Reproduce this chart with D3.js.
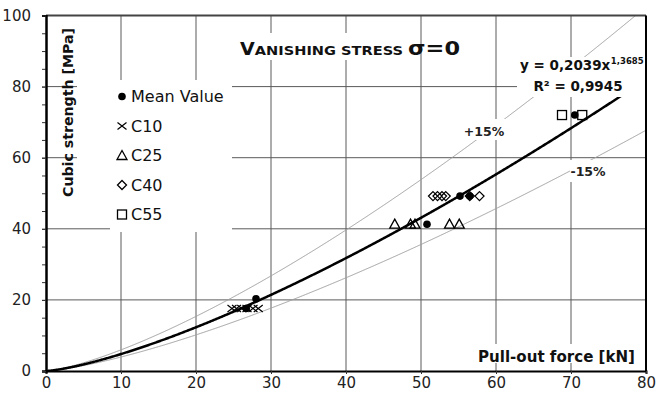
<!DOCTYPE html>
<html>
<head>
<meta charset="utf-8">
<script src="https://cdn.jsdelivr.net/npm/d3@7"></script>
<style>
  body { margin: 0; background: #fff; }
  svg text { font-family: "DejaVu Sans", sans-serif; }
</style>
</head>
<body>
<script>
// DATA
var meanX = [28.0, 26.7, 50.8, 55.2, 56.5, 70.5];
var meanY = [20.3, 17.6, 41.3, 49.2, 49.2, 72.0];
var c10X = [24.8, 25.4, 26.1, 26.8, 27.6, 28.3];
var c10Y = [17.6, 17.6, 17.6, 17.6, 17.6, 17.6];
var c25X = [46.5, 48.6, 49.2, 53.8, 55.1];
var c25Y = [41.3, 41.3, 41.3, 41.3, 41.3];
var c40X = [51.6, 52.2, 52.8, 53.3, 56.5, 57.8];
var c40Y = [49.2, 49.2, 49.2, 49.2, 49.2, 49.2];
var c55X = [68.8, 71.5];
var c55Y = [72.0, 72.0];
var xTicks = [0, 10, 20, 30, 40, 50, 60, 70, 80];
var yTicks = [0, 20, 40, 60, 80, 100];
var legendNames = ['Mean Value', 'C10', 'C25', 'C40', 'C55'];
var fitA = 0.2039, fitB = 1.3685, band = 0.15;

// SETTINGS
var W = 657, H = 401;
var x = d3.scaleLinear().domain([0, 80]).range([46, 646]);
var y = d3.scaleLinear().domain([0, 100]).range([371, 15.5]);

var svg = d3.select('body').append('svg').attr('width', W).attr('height', H);

// GRID
svg.append('g').selectAll('line').data(xTicks.slice(1, -1)).join('line')
   .attr('x1', d => x(d)).attr('x2', d => x(d))
   .attr('y1', y(100)).attr('y2', y(0))
   .attr('stroke', '#5a5a5a').attr('stroke-width', 1);
svg.append('g').selectAll('line').data(yTicks.slice(1, -1)).join('line')
   .attr('x1', x(0)).attr('x2', x(80))
   .attr('y1', d => y(d)).attr('y2', d => y(d))
   .attr('stroke', '#5a5a5a').attr('stroke-width', 1);

// CURVES
var fit = v => fitA * Math.pow(v, fitB);
var steps = d3.range(0, 801).map(i => i / 10);
var line = d3.line().x(d => x(d[0])).y(d => y(d[1]));
svg.append('clipPath').attr('id', 'plot').append('rect')
   .attr('x', x(0)).attr('y', y(100)).attr('width', x(80) - x(0)).attr('height', y(0) - y(100));

svg.append('path').attr('clip-path', 'url(#plot)')
   .attr('d', line(steps.map(v => [v, fit(v / (1 - band))])))
   .attr('fill', 'none').attr('stroke', '#a0a0a0').attr('stroke-width', 1);
svg.append('path').attr('clip-path', 'url(#plot)')
   .attr('d', line(steps.map(v => [v, fit(v / (1 + band))])))
   .attr('fill', 'none').attr('stroke', '#a0a0a0').attr('stroke-width', 1);
svg.append('path')
   .attr('d', line(steps.filter(v => v <= 77).map(v => [v, fit(v)])))
   .attr('fill', 'none').attr('stroke', '#000').attr('stroke-width', 2.5);

// WHITE BOXES BEHIND TEXT
var boxes = [[77, 80, 33, 120], [110, 80, 122, 152], [232, 33, 185, 27], [517, 57, 128, 40],
             [464, 119, 41, 21], [570, 160, 37, 22], [476, 344, 162, 19]];
svg.append('g').selectAll('rect').data(boxes).join('rect')
   .attr('x', d => d[0]).attr('y', d => d[1]).attr('width', d => d[2]).attr('height', d => d[3])
   .attr('fill', '#fff');

// MARKERS
function drawMarkers(g, xs, ys, kind) {
   xs.forEach((v, i) => marker(g, x(v), y(ys[i]), kind));
}
function marker(g, cx, cy, kind) {
   if (kind === 'mean') {
      g.append('circle').attr('cx', cx).attr('cy', cy).attr('r', 3.8).attr('fill', '#000');
   } else if (kind === 'cross') {
      g.append('path').attr('d', `M${cx-4.5},${cy-3.5}L${cx+4.5},${cy+3.5}M${cx-4.5},${cy+3.5}L${cx+4.5},${cy-3.5}`)
         .attr('stroke', '#000').attr('stroke-width', 1.2).attr('fill', 'none');
   } else if (kind === 'tri') {
      g.append('path').attr('d', `M${cx},${cy-5}L${cx+5},${cy+4}L${cx-5},${cy+4}Z`)
         .attr('stroke', '#000').attr('stroke-width', 1.3).attr('fill', 'none');
   } else if (kind === 'diam') {
      g.append('path').attr('d', `M${cx},${cy-4.5}L${cx+4.5},${cy}L${cx},${cy+4.5}L${cx-4.5},${cy}Z`)
         .attr('stroke', '#000').attr('stroke-width', 1.3).attr('fill', 'none');
   } else {
      g.append('rect').attr('x', cx - 4.5).attr('y', cy - 4.5).attr('width', 9).attr('height', 9)
         .attr('stroke', '#000').attr('stroke-width', 1.3).attr('fill', 'none');
   }
}
var gm = svg.append('g');
drawMarkers(gm, c10X, c10Y, 'cross');
drawMarkers(gm, c25X, c25Y, 'tri');
drawMarkers(gm, c40X, c40Y, 'diam');
drawMarkers(gm, c55X, c55Y, 'square');
drawMarkers(gm, meanX, meanY, 'mean');

// LEGEND
var kinds = ['mean', 'cross', 'tri', 'diam', 'square'];
var lg = svg.append('g');
legendNames.forEach((name, i) => {
   var ly = 96.5 + i * 29.5;
   marker(lg, 122, ly, kinds[i]);
   lg.append('text').attr('x', 131).attr('y', ly).attr('dy', '0.36em')
      .attr('font-size', 16).attr('fill', '#111').text(name);
});

// FRAME
svg.append('line').attr('x1', x(0)).attr('x2', x(80)).attr('y1', y(100)).attr('y2', y(100))
   .attr('stroke', '#444').attr('stroke-width', 2);
svg.append('line').attr('x1', x(80)).attr('x2', x(80)).attr('y1', y(100)).attr('y2', y(0))
   .attr('stroke', '#000').attr('stroke-width', 2);

// AXES
var xAxis = svg.append('g').attr('transform', `translate(0,${y(0)})`)
   .call(d3.axisBottom(x).tickValues(xTicks).tickSize(3).tickPadding(3).tickFormat(d3.format('d')));
var yMinor = svg.append('g').attr('transform', `translate(${x(0)},0)`)
   .call(d3.axisLeft(y).tickValues(d3.range(0, 101, 5)).tickSize(4).tickFormat(''));
var yAxis = svg.append('g').attr('transform', `translate(${x(0)},0)`)
   .call(d3.axisLeft(y).tickValues(yTicks).tickSize(4).tickPadding(11).tickFormat(d3.format('d')));
[xAxis, yAxis, yMinor].forEach(a => {
   a.select('.domain').attr('stroke', '#000').attr('stroke-width', 2);
   a.selectAll('.tick line').attr('stroke', '#333');
   a.selectAll('text').attr('font-family', 'DejaVu Sans').attr('font-size', 15).attr('fill', '#222');
});

// AXIS TITLES
svg.append('text').attr('transform', 'translate(73,112.5) rotate(-90)')
   .attr('text-anchor', 'middle').attr('font-weight', 'bold').attr('font-size', 14.5)
   .attr('textLength', 169).attr('lengthAdjust', 'spacingAndGlyphs').attr('fill', '#111')
   .text('Cubic strength [MPa]');
svg.append('text').attr('x', 478).attr('y', 362)
   .attr('font-weight', 'bold').attr('font-size', 15)
   .attr('textLength', 157).attr('lengthAdjust', 'spacingAndGlyphs').attr('fill', '#111')
   .text('Pull-out force [kN]');

// TITLE
var title = svg.append('text').attr('x', 240).attr('y', 55).attr('font-weight', 'bold').attr('fill', '#111')
   .attr('textLength', 220).attr('lengthAdjust', 'spacingAndGlyphs');
title.append('tspan').attr('font-size', 17).text('V');
title.append('tspan').attr('font-size', 13).text('ANISHING STRESS ');
title.append('tspan').attr('font-size', 20).text('σ=0');

// EQUATION AND BAND LABELS
var eq = svg.append('text').attr('x', 520).attr('y', 70).attr('font-weight', 'bold')
   .attr('font-size', 13.5).attr('fill', '#111').text('y = 0,2039x');
var eqW = eq.node().getComputedTextLength();
svg.append('text').attr('x', 520 + eqW + 0.5).attr('y', 63.5).attr('font-weight', 'bold')
   .attr('font-size', 8.5).attr('fill', '#111').text('1,3685');
svg.append('text').attr('x', 578).attr('y', 91).attr('text-anchor', 'middle')
   .attr('font-weight', 'bold').attr('font-size', 13.5).attr('fill', '#111').text('R² = 0,9945');
svg.append('text').attr('x', 484).attr('y', 136).attr('text-anchor', 'middle')
   .attr('font-weight', 'bold').attr('font-size', 12.5).attr('fill', '#222').text('+15%');
svg.append('text').attr('x', 588).attr('y', 176).attr('text-anchor', 'middle')
   .attr('font-weight', 'bold').attr('font-size', 12.5).attr('fill', '#222').text('-15%');
</script>
</body>
</html>
